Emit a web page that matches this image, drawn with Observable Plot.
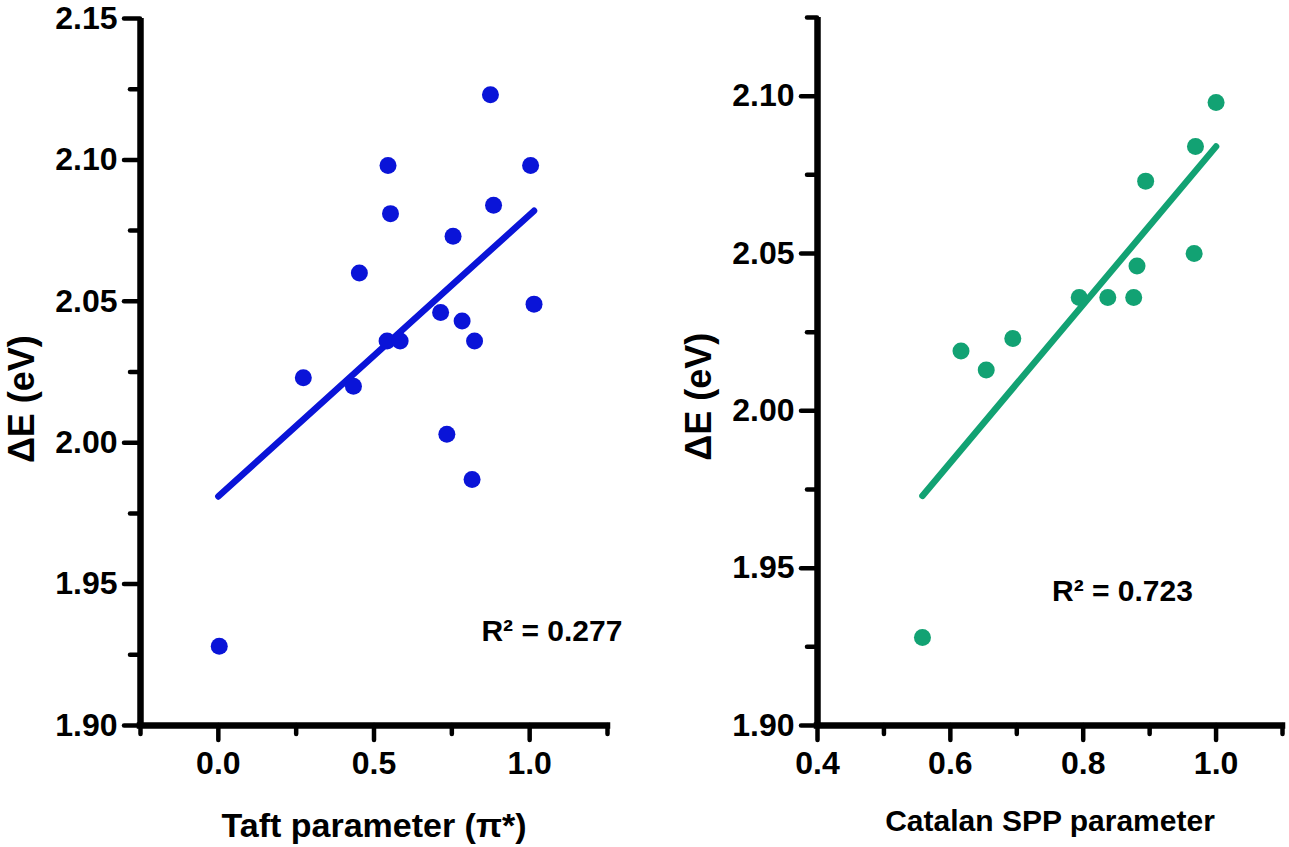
<!DOCTYPE html>
<html>
<head>
<meta charset="utf-8">
<script src="https://cdn.jsdelivr.net/npm/d3@7"></script>
<script src="https://cdn.jsdelivr.net/npm/@observablehq/plot@0.6"></script>
<style>
  html, body { margin: 0; padding: 0; background: #fff; }
  #wrap { position: relative; width: 1289px; height: 847px; overflow: hidden; }
  #left, #right { position: absolute; top: 0; }
  #left { left: 0; }
  #right { left: 645px; }
  svg { overflow: visible; }
</style>
</head>
<body>
<div id="wrap"><div id="left"></div><div id="right"></div></div>
<script>
// ---- Left panel: Taft parameter (pi*) ----
const taftX = [0.003, 0.273, 0.434, 0.453, 0.542, 0.545, 0.553, 0.584, 0.714, 0.734, 0.754, 0.783, 0.815, 0.823, 0.874, 0.884, 1.003, 1.014];
const taftY = [1.928, 2.023, 2.020, 2.060, 2.036, 2.098, 2.081, 2.036, 2.046, 2.003, 2.073, 2.043, 1.987, 2.036, 2.123, 2.084, 2.098, 2.049];
const taftFitX = [0.0, 1.014];
const taftFitY = [1.981, 2.082];
const taftR2 = "R² = 0.277";

// ---- Right panel: Catalan SPP parameter ----
const sppX = [0.558, 0.616, 0.654, 0.694, 0.794, 0.837, 0.876, 0.881, 0.894, 0.967, 0.969, 1.000];
const sppY = [1.928, 2.019, 2.013, 2.023, 2.036, 2.036, 2.036, 2.046, 2.073, 2.050, 2.084, 2.098];
const sppFitX = [0.558, 1.0];
const sppFitY = [1.973, 2.084];
const sppR2 = "R² = 0.723";

// ---- Axes ----
const leftXDomain = [-0.25, 1.25];
const leftYDomain = [1.90, 2.15];
const leftXMajor = [0.0, 0.5, 1.0];
const leftXMinor = [-0.25, 0.25, 0.75, 1.25];
const leftYMajor = [1.90, 1.95, 2.00, 2.05, 2.10, 2.15];
const leftYMinor = [1.925, 1.975, 2.025, 2.075, 2.125];

const rightXDomain = [0.4, 1.1];
const rightYDomain = [1.90, 2.125];
const rightXMajor = [0.4, 0.6, 0.8, 1.0];
const rightXMinor = [0.5, 0.7, 0.9, 1.1];
const rightYMajor = [1.90, 1.95, 2.00, 2.05, 2.10];
const rightYMinor = [1.925, 1.975, 2.025, 2.075, 2.125];

const yLabel = "ΔE (eV)";
const leftXLabel = "Taft parameter (π*)";
const rightXLabel = "Catalan SPP parameter";

const FONT = "'Liberation Sans', Arial, Helvetica, sans-serif";

function panel(o) {
  const pts = o.xs.map((x, i) => ({x, y: o.ys[i]}));
  const fit = o.fx.map((x, i) => ({x, y: o.fy[i]}));
  return Plot.plot({
    width: o.width,
    height: 847,
    marginLeft: o.ml,
    marginRight: o.mr,
    marginTop: o.mt,
    marginBottom: 122,
    style: {fontFamily: FONT, fontWeight: "bold", color: "#000", background: "transparent", overflow: "visible"},
    x: {domain: o.xDomain, label: null},
    y: {domain: o.yDomain, label: null},
    marks: [
      // minor ticks
      Plot.axisY({ticks: o.yMinor, tickSize: 10, tickFormat: () => "", strokeWidth: 4.5, strokeLinecap: "round", label: null}),
      Plot.axisX({ticks: o.xMinor, tickSize: 9, tickFormat: () => "", strokeWidth: 4.5, strokeLinecap: "round", label: null}),
      // major ticks
      Plot.axisY({ticks: o.yMajor, tickSize: 16, tickPadding: 7, tickFormat: d3.format(".2f"), strokeWidth: 4.5, strokeLinecap: "round", fontSize: 32, fontWeight: "bold", fill: "#000", label: null}),
      Plot.axisX({ticks: o.xMajor, tickSize: 15, tickPadding: 11, tickFormat: d3.format(".1f"), strokeWidth: 4.5, strokeLinecap: "round", fontSize: 32, fontWeight: "bold", fill: "#000", label: null}),
      // axis lines
      Plot.ruleX([o.xDomain[0]], {y1: o.yDomain[0], y2: o.yDomain[1], stroke: "#000", strokeWidth: 6.5}),
      Plot.ruleY([o.yDomain[0]], {x1: o.xDomain[0], x2: o.xDomain[1], stroke: "#000", strokeWidth: 6.5, strokeLinecap: "square"}),
      // fit line
      Plot.line(fit, {x: "x", y: "y", stroke: o.color, strokeWidth: 6.5, strokeLinecap: "round"}),
      // points
      Plot.dot(pts, {x: "x", y: "y", r: 8.5, fill: o.color, stroke: "none"}),
      // R² annotation
      Plot.text([o.r2], {x: o.r2x, y: o.r2y, text: d => d, textAnchor: "start", lineAnchor: "middle", fontSize: 30, fontWeight: "bold", fill: "#000"}),
      // axis titles
      Plot.text([o.xLabel], {frameAnchor: "bottom", text: d => d, lineAnchor: "bottom", dy: o.xLabelDy, fontSize: o.xLabelSize, fontWeight: "bold", fill: "#000"}),
      Plot.text([yLabel], {x: o.ylx, y: o.yly, text: d => d, rotate: -90, textAnchor: "middle", lineAnchor: "middle", fontSize: 36, fontWeight: "bold", fill: "#000"})
    ]
  });
}

document.getElementById("left").appendChild(panel({
  width: 645, ml: 140, mr: 38, mt: 18,
  xs: taftX, ys: taftY, fx: taftFitX, fy: taftFitY,
  xDomain: leftXDomain, yDomain: leftYDomain,
  xMajor: leftXMajor, xMinor: leftXMinor, yMajor: leftYMajor, yMinor: leftYMinor,
  color: "#0a14d8",
  r2: taftR2, r2x: 0.845, r2y: 1.9333,
  ylx: -0.629, yly: 2.0154,
  xLabel: leftXLabel, xLabelDy: 111, xLabelSize: 34
}));

document.getElementById("right").appendChild(panel({
  width: 644, ml: 172, mr: 7, mt: 17,
  xs: sppX, ys: sppY, fx: sppFitX, fy: sppFitY,
  xDomain: rightXDomain, yDomain: rightYDomain,
  xMajor: rightXMajor, xMinor: rightXMinor, yMajor: rightYMajor, yMinor: rightYMinor,
  color: "#12a273",
  r2: sppR2, r2x: 0.753, r2y: 1.9427,
  ylx: 0.2226, yly: 2.0045,
  xLabel: rightXLabel, xLabelDy: 105, xLabelSize: 30
}));
</script>
</body>
</html>
